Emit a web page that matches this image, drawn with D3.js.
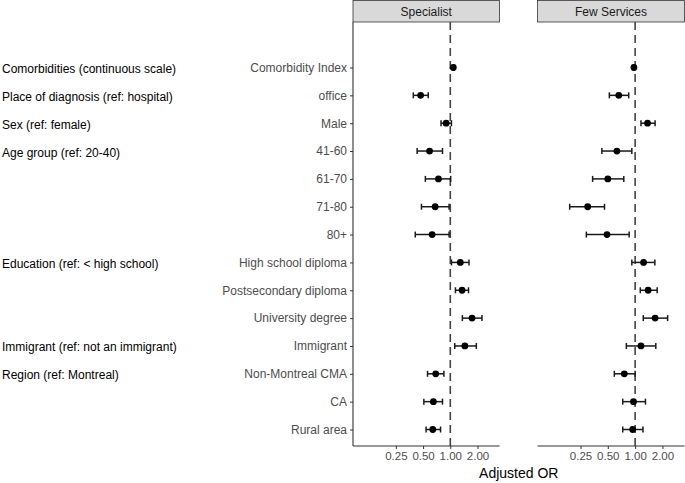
<!DOCTYPE html>
<html>
<head>
<meta charset="utf-8">
<script src="https://cdn.jsdelivr.net/npm/d3@7"></script>
<style>
  html, body { margin: 0; padding: 0; background: #fff; }
  svg { display: block; font-family: "Liberation Sans", Arial, sans-serif; }
</style>
</head>
<body>
<svg id="chart" width="685" height="483"></svg>
<script>
// ---- data ----
const rowLabels = ["Comorbidity Index", "office", "Male", "41-60", "61-70", "71-80", "80+",
  "High school diploma", "Postsecondary diploma", "University degree", "Immigrant",
  "Non-Montreal CMA", "CA", "Rural area"];

const groupLabels = ["Comorbidities (continuous scale)", "Place of diagnosis (ref: hospital)",
  "Sex (ref: female)", "Age group (ref: 20-40)", "Education (ref: < high school)",
  "Immigrant (ref: not an immigrant)", "Region (ref: Montreal)"];
const groupRows = ["Comorbidity Index", "office", "Male", "41-60", "High school diploma", "Immigrant", "Non-Montreal CMA"];

const panels = ["Specialist", "Few Services"];

const specialistOR = [1.08, 0.47, 0.90, 0.59, 0.74, 0.68, 0.63, 1.29, 1.35, 1.74, 1.45, 0.69, 0.65, 0.64];
const specialistLo = [1.06, 0.39, 0.79, 0.43, 0.53, 0.48, 0.41, 1.03, 1.14, 1.36, 1.12, 0.56, 0.51, 0.54];
const specialistHi = [1.10, 0.57, 1.03, 0.82, 1.01, 0.97, 0.97, 1.61, 1.59, 2.24, 1.94, 0.85, 0.82, 0.78];

const fewOR = [0.97, 0.66, 1.37, 0.63, 0.50, 0.30, 0.49, 1.24, 1.39, 1.66, 1.16, 0.76, 0.96, 0.94];
const fewLo = [0.95, 0.52, 1.16, 0.43, 0.34, 0.19, 0.29, 0.92, 1.14, 1.23, 0.80, 0.59, 0.73, 0.73];
const fewHi = [0.99, 0.85, 1.66, 0.92, 0.75, 0.46, 0.86, 1.65, 1.75, 2.28, 1.69, 1.00, 1.30, 1.22];

const xTicks = [0.25, 0.5, 1, 2];
const xTickLabels = ["0.25", "0.50", "1.00", "2.00"];
const xTitle = "Adjusted OR";

// ---- layout ----
const svg = d3.select("#chart");
const panelX = [[353, 499.5], [537.5, 684.5]];
const stripTop = 0.5, stripBottom = 22;
const plotTop = 22, plotBottom = 446;
const xDomain = [0.084, 3.5];

const y = d3.scalePoint().domain(rowLabels).range([67.5, 429.5]);

const series = [
  {or: specialistOR, lo: specialistLo, hi: specialistHi},
  {or: fewOR, lo: fewLo, hi: fewHi}
];

panels.forEach((name, pi) => {
  const [x0, x1] = panelX[pi];
  const x = d3.scaleLog().base(2).domain(xDomain).range([x0, x1]);

  // strip
  svg.append("rect")
    .attr("x", x0).attr("y", stripTop)
    .attr("width", x1 - x0).attr("height", stripBottom - stripTop)
    .attr("fill", "#d9d9d9").attr("stroke", "#333").attr("stroke-width", 0.8);
  svg.append("text")
    .attr("x", (x0 + x1) / 2).attr("y", 11.5)
    .attr("text-anchor", "middle").attr("dominant-baseline", "central")
    .attr("font-size", 12).attr("fill", "#1a1a1a").text(name);

  // reference line
  svg.append("line")
    .attr("x1", x(1)).attr("x2", x(1))
    .attr("y1", plotTop).attr("y2", plotBottom)
    .attr("stroke", "#444").attr("stroke-width", 1.6)
    .attr("stroke-dasharray", "8,5");

  // x axis
  const xAxis = d3.axisBottom(x).tickValues(xTicks)
    .tickFormat((d, i) => xTickLabels[i]).tickSize(3).tickPadding(3);
  const gx = svg.append("g").attr("transform", `translate(0,${plotBottom})`).call(xAxis);
  gx.select(".domain").attr("stroke", "#333").attr("stroke-width", 1.1)
    .attr("d", `M${x0},0H${x1}`);
  gx.selectAll(".tick line").attr("stroke", "#333").attr("stroke-width", 1);
  gx.selectAll(".tick text").attr("fill", "#4d4d4d").attr("font-size", 11.5)
    .attr("font-family", "Liberation Sans, Arial, sans-serif");

  // y axis only on first panel
  if (pi === 0) {
    const yAxis = d3.axisLeft(y).tickSize(3).tickPadding(3);
    const gy = svg.append("g").attr("transform", `translate(${x0},0)`).call(yAxis);
    gy.select(".domain").attr("stroke", "#333").attr("stroke-width", 1.1)
      .attr("d", `M0,${plotTop}V${plotBottom}`);
    gy.selectAll(".tick line").attr("stroke", "#333").attr("stroke-width", 1);
    gy.selectAll(".tick text").attr("fill", "#4d4d4d").attr("font-size", 12)
      .attr("font-family", "Liberation Sans, Arial, sans-serif");
  }

  // error bars & points
  const s = series[pi];
  const g = svg.append("g");
  rowLabels.forEach((lab, i) => {
    const yy = y(lab);
    const xl = x(s.lo[i]), xh = x(s.hi[i]);
    g.append("line").attr("x1", xl).attr("x2", xh).attr("y1", yy).attr("y2", yy)
      .attr("stroke", "#1a1a1a").attr("stroke-width", 1.5);
    [xl, xh].forEach(cx => g.append("line")
      .attr("x1", cx).attr("x2", cx).attr("y1", yy - 3).attr("y2", yy + 3)
      .attr("stroke", "#1a1a1a").attr("stroke-width", 1.5));
    g.append("circle").attr("cx", x(s.or[i])).attr("cy", yy).attr("r", 3.4)
      .attr("fill", "#000");
  });
});

// group labels
groupLabels.forEach((t, i) => {
  svg.append("text").attr("x", 2).attr("y", y(groupRows[i]) + 1.5)
    .attr("dominant-baseline", "central").attr("font-size", 12)
    .attr("fill", "#000").text(t);
});

// x title
svg.append("text").attr("x", (panelX[0][0] + panelX[1][1]) / 2).attr("y", 473)
  .attr("text-anchor", "middle").attr("dominant-baseline", "central")
  .attr("font-size", 14).attr("fill", "#000").text(xTitle);
</script>
</body>
</html>
